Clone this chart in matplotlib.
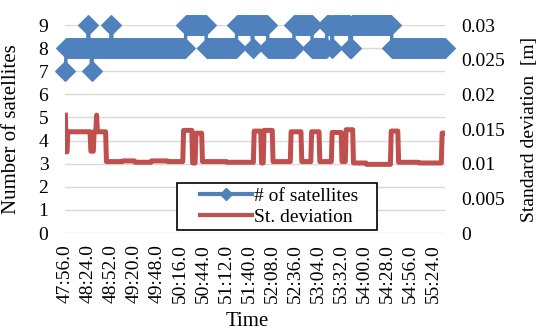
import numpy as np
import matplotlib.pyplot as plt
from matplotlib.lines import Line2D
from matplotlib.legend_handler import HandlerLine2D

plt.rcParams['font.family'] = ['Liberation Serif', 'DejaVu Serif']

# x axis: one sample per second, labels every 28 samples
time_labels = ['47:56.0', '48:24.0', '48:52.0', '49:20.0', '49:48.0', '50:16.0',
               '50:44.0', '51:12.0', '51:40.0', '52:08.0', '52:36.0', '53:04.0',
               '53:32.0', '54:00.0', '54:28.0', '54:56.0', '55:24.0']
label_step = 28

# number of satellites, stored as runs (value, run length)
sat_values = [7, 8, 9, 8, 7, 8, 9, 8, 9, 8, 9, 8, 9, 8, 9, 8, 9, 8, 9, 8, 9, 8]
sat_lengths = [1, 27, 1, 3, 1, 23, 1, 90, 25, 37, 19, 1, 18, 32, 22, 18, 6, 1, 21, 2, 49, 65]

# standard deviation [m], stored as runs (value, run length)
std_values = [0.0170, 0.0117, 0.0146, 0.0118, 0.0146, 0.0170, 0.0146,
              0.0103, 0.0104, 0.0102, 0.0104, 0.0103,
              0.0148, 0.0101, 0.0144,
              0.0103, 0.0102,
              0.0147, 0.0101, 0.0148, 0.0103, 0.0146, 0.0103, 0.0146, 0.0103,
              0.0145, 0.0103, 0.0149, 0.0101, 0.0099, 0.0147, 0.0102, 0.0101, 0.0144]
std_lengths = [1, 2, 28, 4, 3, 1, 11,
               20, 15, 20, 20, 19,
               11, 4, 8,
               30, 33,
               9, 3, 11, 22, 13, 12, 10, 15,
               12, 5, 9, 16, 30, 9, 25, 28, 4]

sats = np.repeat(sat_values, sat_lengths)
std = np.repeat(std_values, std_lengths)
idx = np.arange(len(sats))

blue = '#4F81BD'
red = '#C0504D'

fig = plt.figure(figsize=(5.41, 3.36), dpi=100)
ax = fig.add_axes([65 / 541, 1 - 233 / 336, 380 / 541, 208 / 336])
ax2 = ax.twinx()

ax.plot(idx, sats, color=blue, lw=2.5, marker='D', ms=9.8, mew=0.8, mec=blue,
        clip_on=False, zorder=3)
ax2.plot(idx, std, color=red, lw=3.6, solid_joinstyle='round', zorder=3)

ax.set_xlim(-0.5, len(idx) - 0.5)
ax.set_ylim(0, 9)
ax2.set_ylim(0, 0.03)

ax.set_yticks(range(10))
ax2.set_yticks([0, 0.005, 0.01, 0.015, 0.02, 0.025, 0.03])
ax2.set_yticklabels(['0', '0.005', '0.01', '0.015', '0.02', '0.025', '0.03'])
ax.set_xticks(idx[::label_step][:len(time_labels)])
ax.set_xticklabels(time_labels, rotation=90)

ax.yaxis.grid(True, color='#d9d9d9', lw=1)
ax.set_axisbelow(True)
for a in (ax, ax2):
    for s in a.spines.values():
        s.set_visible(False)
ax.tick_params(axis='y', length=0, pad=12, labelsize=14)
ax.tick_params(axis='x', length=0, pad=8, labelsize=14)
ax2.tick_params(axis='y', length=0, pad=12, labelsize=14)

ax.set_ylabel('Number of satellites', fontsize=15)
ax.yaxis.set_label_coords(-0.115, 0.5)
ax2.set_ylabel('Standard deviation  [m]', fontsize=14)
ax2.yaxis.set_label_coords(1.20, 0.5)
ax.set_xlabel('Time', fontsize=15)
ax.xaxis.set_label_coords(0.479, -0.38)

handles = [Line2D([], [], color=blue, lw=3, marker='D', ms=6),
           Line2D([], [], color=red, lw=3)]
leg = ax2.legend(handles, ['# of satellites', 'St. deviation'],
                 loc='lower left',
                 bbox_to_anchor=(177 / 541, 1 - 230 / 336, 200 / 541, 50 / 336),
                 bbox_transform=fig.transFigure, mode='expand',
                 fancybox=False, framealpha=1,
                 edgecolor='black', fontsize=14, handlelength=3.66,
                 borderpad=0.2, labelspacing=0.2, handletextpad=0.1,
                 borderaxespad=0,
                 handler_map={Line2D: HandlerLine2D(xpad=0.98)})
leg.get_frame().set_linewidth(1.2)

fig.savefig('out.png', dpi=100)
